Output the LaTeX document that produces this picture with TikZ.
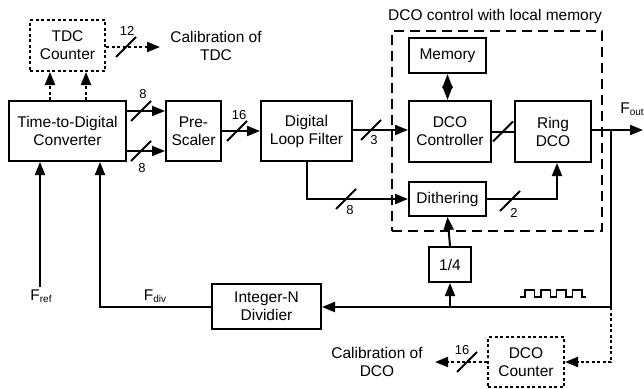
\documentclass[tikz,border=0pt]{standalone}
\usepackage{fontspec}
\setmainfont{Liberation Sans}
\usetikzlibrary{arrows.meta}
\newcommand\fsmain{\fontsize{15.5}{18}\selectfont}
\newcommand\fslab{\fontsize{13}{15}\selectfont}
\newcommand\subtxt[1]{\raisebox{-2.5pt}{\fontsize{10}{10}\selectfont #1}}
\begin{document}
\begin{tikzpicture}[x=1pt,y=-1pt,
  blk/.style={draw, line width=2pt, inner sep=0pt, align=center, font=\fsmain},
  dotbox/.style={blk, dash pattern=on 3pt off 2.5pt},
  wire/.style={line width=2pt},
  arr/.style={wire, -{Triangle[length=13pt,width=10pt]}},
  darr/.style={arr, dash pattern=on 3pt off 2.5pt},
  lab/.style={font=\fslab, inner sep=0pt},
  txt/.style={font=\fsmain, align=center, inner sep=0pt},
  buscut/.pic={\draw[line width=1.8pt] (-10,10) -- (10,-10);}
]
\useasboundingbox (0,0) rectangle (644,388);

% group box
\node[draw, line width=2pt, dash pattern=on 10pt off 6pt, minimum width=210pt, minimum height=200pt, inner sep=0pt] (grp) at (497,131) {};
\node[txt] (title) at (495,16) {DCO control with local memory};

% blocks
\node[dotbox, minimum width=75pt, minimum height=51pt] (tdcc) at (67.5,45.5) {TDC\\Counter};
\node[blk, minimum width=117pt, minimum height=60pt] (tdc) at (67.5,131) {Time-to-Digital\\Converter};
\node[blk, minimum width=55pt, minimum height=60pt] (pre) at (193.5,131) {Pre-\\Scaler};
\node[blk, minimum width=91pt, minimum height=60pt] (dlf) at (306.5,131) {Digital\\Loop Filter};
\node[blk, minimum width=77pt, minimum height=35pt] (mem) at (447.5,55.5) {Memory};
\node[blk, minimum width=82pt, minimum height=61pt] (dcoc) at (450,131.5) {DCO\\Controller};
\node[blk, minimum width=76pt, minimum height=61pt] (ring) at (553,131.5) {Ring\\DCO};
\node[blk, minimum width=77pt, minimum height=34pt] (dith) at (447.5,199) {Dithering};
\node[blk, minimum width=42pt, minimum height=35pt] (quar) at (450,264.5) {1/4};
\node[blk, minimum width=109pt, minimum height=45pt] (div) at (266.5,306.5) {Integer-N\\Dividier};
\node[dotbox, minimum width=76pt, minimum height=50pt] (dcnt) at (526,362) {DCO\\Counter};

% texts
\node[txt] (caltdc) at (216,46) {Calibration of\\TDC};
\node[txt] (caldco) at (377,362) {Calibration of\\DCO};
\node[txt] (fout) at (632,109) {F\subtxt{out}};
\node[txt] (fdiv) at (155,296) {F\subtxt{div}};
\node[txt] (fref) at (41,296) {F\subtxt{ref}};

% coordinates
\coordinate (c1) at (50,0);
\coordinate (c2) at (86,0);
\coordinate (ct) at (160,47);
\coordinate (y111) at (0,111);
\coordinate (y151) at (0,151);
\coordinate (y130) at (0,130);
\coordinate (out) at (643,130);
\coordinate (br) at (611,130);
\coordinate (bb) at (611,307);
\coordinate (dr) at (557,199);
\coordinate (dl) at (307,199);
\coordinate (fd) at (100,306.5);
\coordinate (fr) at (40,287);
\coordinate (dd) at (611,362);
\coordinate (cd) at (435,362);

% dotted TDC counter links
\draw[darr] (c1 |- tdc.north) -- (c1 |- tdcc.south);
\draw[darr] (c2 |- tdc.north) -- (c2 |- tdcc.south);
\draw[darr] (tdcc.east |- ct) -- (ct);
\pic at (126,47) {buscut};
\node[lab] (l12) at (127,31) {12};

% TDC -> Pre-Scaler
\draw[arr] (tdc.east |- y111) -- (pre.west |- y111);
\draw[arr] (tdc.east |- y151) -- (pre.west |- y151);
\pic at (141,111) {buscut};
\pic at (141,151) {buscut};
\node[lab] (l8a) at (143,94) {8};
\node[lab] (l8b) at (142,168) {8};

% Pre-Scaler -> DLF
\draw[arr] (pre.east) -- (dlf.west);
\pic at (237,131) {buscut};
\node[lab] (l16a) at (239,115) {16};

% DLF -> DCO controller
\draw[arr] (dlf.east |- y130) -- (dcoc.west |- y130);
\pic at (371,130) {buscut};
\node[lab] (l3) at (374,140) {3};

% Memory <-> DCO controller
\draw[wire, {Triangle[length=14pt,width=10pt]}-{Triangle[length=14pt,width=10pt]}] (mem.south) -- (mem.south |- dcoc.north);

% DCO controller -> Ring DCO
\draw[wire] (dcoc.east) -- (ring.west);
\pic at (503,131.5) {buscut};

% Ring DCO -> out
\draw[arr] (ring.east |- out) -- (out);
\draw[wire] (br) -- (bb);
\draw[arr] (bb) -- (div.east |- bb);
\draw[arr] (quar.south |- bb) -- (quar.south);
\draw[arr] (quar.north) -- (dith.south);

% Dithering -> Ring DCO
\draw[arr] (dith.east) -- (dr) -- (dr |- ring.south);
\pic at (510,201) {buscut};
\node[lab] (l2) at (514,213) {2};

% DLF -> Dithering
\draw[arr] (dl |- dlf.south) -- (dl) -- (dith.west);
\pic at (346,199) {buscut};
\node[lab] (l8c) at (350,210) {8};

% divider -> TDC
\draw[arr] (div.west) -- (fd) -- (fd |- tdc.south);
\draw[arr] (fr) -- (fr |- tdc.south);

% DCO counter
\draw[darr] (bb) -- (dd) -- (dcnt.east);
\draw[darr] (dcnt.west) -- (cd);
\pic at (467,362) {buscut};
\node[lab] (l16b) at (462,350) {16};

% square wave
\draw[line width=1.6pt] (520,297) -- (525,297) -- (525,290) -- (534.5,290) -- (534.5,297)
  -- (540.8,297) -- (540.8,290) -- (550.3,290) -- (550.3,297)
  -- (556.6,297) -- (556.6,290) -- (566.1,290) -- (566.1,297)
  -- (572.4,297) -- (572.4,290) -- (581.9,290) -- (581.9,297) -- (586,297);
\end{tikzpicture}
\end{document}
